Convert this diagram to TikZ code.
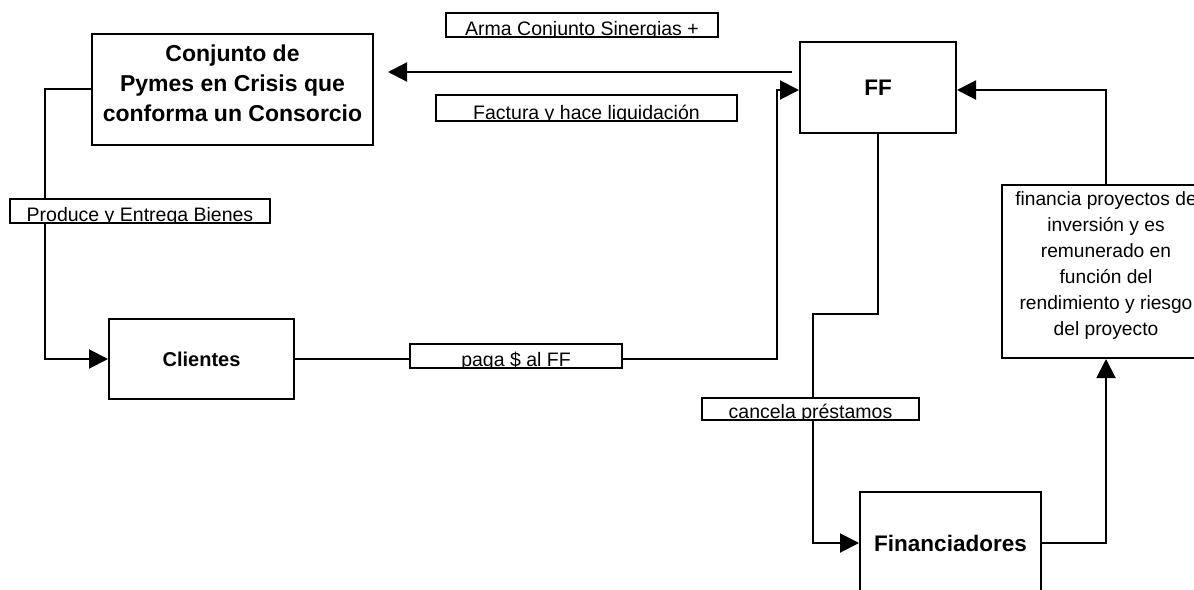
\documentclass[tikz,border=0pt]{standalone}
\usepackage{fontspec}
\setmainfont{Liberation Sans}
\usetikzlibrary{arrows.meta,calc}
\tikzset{
  box/.style={draw, line width=2pt, fill=white, inner sep=0pt},
  conn/.style={line width=2pt, -{Triangle[length=19pt,width=19pt]}},
  lbl/.style={draw, line width=1.8pt, fill=white, inner sep=0pt},
  lbltext/.style={anchor=base, inner sep=0pt, font=\fontsize{19.5}{22}\selectfont},
  bigtext/.style={font=\fontsize{23}{30}\selectfont\bfseries, align=center},
  boldfont/.style={font=\fontsize{22.5}{27}\selectfont\bfseries}
}
\begin{document}
\begin{tikzpicture}[x=1pt,y=-1pt]
\useasboundingbox (0,0) rectangle (1194,589);
\clip (0,0) rectangle (1194,589);

% main boxes
\node[box, minimum width=281pt, minimum height=111pt,
  label={[bigtext, yshift=5.5pt]center:Conjunto de\\Pymes en Crisis que\\conforma un Consorcio}] (pymes) at (232.5,89) {};
\node[box, boldfont, minimum width=156pt, minimum height=91pt] (ff) at (878,87.5) {FF};
\node[box, font=\fontsize{20}{24}\selectfont\bfseries, minimum width=185pt, minimum height=80pt] (clientes) at (201.5,359) {Clientes};
\node[box, boldfont, minimum width=181pt, minimum height=102pt] (fin) at (950.5,543) {Financiadores};
\node[box, minimum width=208pt, minimum height=173pt,
  label={[font=\fontsize{19.2}{26}\selectfont, align=center, yshift=5.5pt]center:financia proyectos de\\inversión y es\\remunerado en\\función del\\rendimiento y riesgo\\del proyecto}] (fina) at (1106,271.5) {};

% free ends
\coordinate (ffout) at ($(ff.north west)+(-7,31)$);
\coordinate (pymesin) at ($(pymes.north east)+(14,39.5)$);

% connectors
\draw[conn] (ffout) -- (pymesin);
\draw[conn] (pymes.west) -- ++(-46,0) |- (clientes.west);
\draw[conn] (clientes.east) -| ($(ff.west)+(-22,2.5)$) -- ($(ff.west)+(0,2.5)$);
\draw[conn] (ff.south) -- ++(0,180) -| ($(fin.west)+(-46,0)$) -- (fin.west);
\draw[conn] (fin.east) -| (fina.south);
\draw[conn] (fina.north) |- ($(ff.east)+(0,2.5)$);

% labels
\node[lbl, minimum width=272pt, minimum height=24pt,
  path picture={\node[lbltext] at ([yshift=1.5pt]path picture bounding box.south) {Arma Conjunto Sinergias +};}] (arma) at (582,25) {};
\node[lbl, minimum width=301pt, minimum height=26pt,
  path picture={\node[lbltext] at ([yshift=1.5pt]path picture bounding box.south) {Factura y hace liquidación};}] (factura) at (586.5,108) {};
\node[lbl, minimum width=260pt, minimum height=24pt,
  path picture={\node[lbltext] at ([yshift=1.5pt]path picture bounding box.south) {Produce y Entrega Bienes};}] (produce) at (140,211) {};
\node[lbl, minimum width=212pt, minimum height=24pt,
  path picture={\node[lbltext] at ([yshift=1.5pt]path picture bounding box.south) {paga \$ al FF};}] (paga) at (516,356) {};
\node[lbl, minimum width=217pt, minimum height=22pt,
  path picture={\node[lbltext] at ([yshift=1.5pt]path picture bounding box.south) {cancela préstamos};}] (cancela) at (810.5,409) {};
\end{tikzpicture}
\end{document}
